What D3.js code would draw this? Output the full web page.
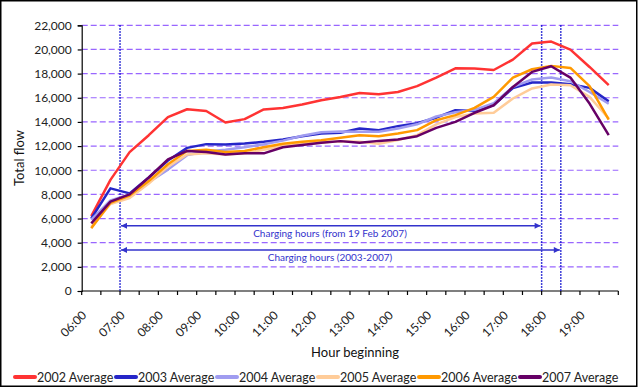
<!DOCTYPE html>
<html>
<head>
<meta charset="utf-8">
<script src="https://cdn.jsdelivr.net/npm/d3@7"></script>
<style>
  html, body { margin: 0; padding: 0; background: #fff; }
  svg { display: block; font-family: Lato, "Open Sans", sans-serif; }
</style>
</head>
<body>
<svg id="chart" width="639" height="387"></svg>
<script>
// ---- data ----
const categories = ["06:00","06:30","07:00","07:30","08:00","08:30","09:00","09:30","10:00","10:30",
  "11:00","11:30","12:00","12:30","13:00","13:30","14:00","14:30","15:00","15:30",
  "16:00","16:30","17:00","17:30","18:00","18:30","19:00","19:30"];
const tickLabels = ["06:00","07:00","08:00","09:00","10:00","11:00","12:00","13:00","14:00","15:00","16:00","17:00","18:00","19:00"];
const yTicks = [0,2000,4000,6000,8000,10000,12000,14000,16000,18000,20000,22000];

const seriesNames = ["2002 Average","2003 Average","2004 Average","2005 Average","2006 Average","2007 Average"];
const seriesColors = ["#ff3333","#2626c8","#a09cf0","#ffcc99","#ff9900","#660066"];

const avg2002 = [6200,9200,11500,12900,14400,15050,14900,13950,14230,15030,15160,15440,15800,16070,16400,16300,16480,16960,17670,18440,18420,18300,19160,20490,20650,19990,18550,17040];
const avg2003 = [6000,8500,8080,9400,10800,11850,12160,12130,12210,12350,12550,12820,13040,13100,13460,13320,13650,13900,14350,14970,14900,15400,16800,17260,17260,17120,16820,15700];
const avg2004 = [5900,7500,8000,9000,10050,11250,11550,11700,11900,12150,12450,12850,13150,13200,13180,13180,13450,13800,14450,14800,15000,15550,16900,17510,17680,17370,16480,15500];
const avg2005 = [5300,7200,7700,8900,10300,11300,11400,11300,11400,11700,12000,12200,12300,12400,12350,12200,12500,12900,13800,14400,14700,14750,15940,16770,17100,17040,16070,14280];
const avg2006 = [5200,7300,7900,9100,10500,11600,11700,11500,11600,11900,12200,12350,12490,12680,12900,12820,13040,13320,14140,14560,15160,16070,17670,18360,18640,18470,16960,14200];
const avg2007 = [5600,7400,8000,9400,10900,11600,11500,11300,11400,11400,11900,12080,12270,12410,12270,12430,12550,12820,13510,14000,14750,15380,16900,18140,18610,17670,15520,12900];
const seriesValues = [avg2002, avg2003, avg2004, avg2005, avg2006, avg2007];

const chargingStart = "07:00";
const chargingEnds = ["18:00","18:30"];
const annotations = ["Charging hours (from 19 Feb 2007)","Charging hours (2003-2007)"];
const annotationLevels = [5400, 3400];

// ---- layout ----
const svg = d3.select("#chart");
const pLeft = 81.7, pRight = 618.3, pTop = 25.3, pBottom = 291;

const x = d3.scaleBand().domain(categories).range([pLeft, pRight]).paddingInner(0).paddingOuter(0);
const y = d3.scaleLinear().domain([0, 22000]).range([pBottom, pTop]);
const cx = d => x(d) + x.bandwidth() / 2;

// outer border
svg.append("rect").attr("x", 0.75).attr("y", 0.75).attr("width", 636).attr("height", 385.5)
  .attr("fill", "none").attr("stroke", "#000").attr("stroke-width", 1.5);

// gridlines
svg.append("g").selectAll("line").data(yTicks.filter(v => v > 0)).join("line")
  .attr("x1", pLeft).attr("x2", pRight)
  .attr("y1", d => y(d)).attr("y2", d => y(d))
  .attr("stroke", "#9966ff").attr("stroke-width", 1.2).attr("stroke-dasharray", "6,3");

// y axis
const yAxis = d3.axisLeft(y).tickValues(yTicks).tickSize(4).tickPadding(6)
  .tickFormat(d3.format(","));
const gy = svg.append("g").attr("transform", `translate(${pLeft},0)`).call(yAxis);
gy.select(".domain").attr("stroke", "#000").attr("stroke-width", 1.2);
gy.selectAll(".tick line").attr("stroke", "#000").attr("stroke-width", 1.2);
gy.selectAll("text").attr("font-size", 12).attr("fill", "#222").attr("font-family", "Lato, sans-serif");

// x axis: boundary ticks
const boundaries = categories.map(c => x(c)).concat([pRight]);
svg.append("g").selectAll("line").data(boundaries).join("line")
  .attr("x1", d => d).attr("x2", d => d).attr("y1", pBottom).attr("y2", pBottom + 4)
  .attr("stroke", "#000").attr("stroke-width", 1.2);
svg.append("line").attr("x1", pLeft).attr("x2", pRight).attr("y1", pBottom).attr("y2", pBottom)
  .attr("stroke", "#000").attr("stroke-width", 1.2);

// x tick labels
svg.append("g").selectAll("text").data(tickLabels).join("text")
  .attr("transform", d => `translate(${cx(d) - 4},${pBottom + 25}) rotate(-45)`)
  .attr("text-anchor", "end").attr("font-size", 12).attr("fill", "#222")
  .text(d => d);

// axis titles
svg.append("text").attr("x", 355).attr("y", 357).attr("text-anchor", "middle")
  .attr("font-size", 13).attr("fill", "#111").text("Hour beginning");
svg.append("text").attr("transform", "translate(24,158) rotate(-90)").attr("text-anchor", "middle")
  .attr("font-size", 13).attr("fill", "#111").text("Total flow");

// vertical dotted lines
const vlines = [chargingStart].concat(chargingEnds);
svg.append("g").selectAll("line").data(vlines).join("line")
  .attr("x1", d => x(d)).attr("x2", d => x(d)).attr("y1", pTop).attr("y2", pBottom)
  .attr("stroke", "#0000cc").attr("stroke-width", 1.5).attr("stroke-dasharray", "1.5,1.5");

// arrow markers
const defs = svg.append("defs");
["start","end"].forEach(k => {
  defs.append("marker").attr("id", "arr-" + k).attr("viewBox", "0 0 10 10")
    .attr("refX", k === "end" ? 10 : 0).attr("refY", 5)
    .attr("markerWidth", 7).attr("markerHeight", 6).attr("markerUnits", "userSpaceOnUse")
    .attr("orient", "auto")
    .append("path").attr("d", k === "end" ? "M0,0 L10,5 L0,10 Z" : "M10,0 L0,5 L10,10 Z")
    .attr("fill", "#3333cc");
});
const annG = svg.append("g");
chargingEnds.forEach((end, i) => {
  const yy = y(annotationLevels[i]);
  annG.append("line").attr("x1", x(chargingStart) + 1).attr("x2", x(end) - 1)
    .attr("y1", yy).attr("y2", yy)
    .attr("stroke", "#3333cc").attr("stroke-width", 1.5)
    .attr("marker-start", "url(#arr-start)").attr("marker-end", "url(#arr-end)");
  annG.append("text").attr("x", 330).attr("y", yy + 11).attr("text-anchor", "middle")
    .attr("font-size", 10).attr("fill", "#3333cc").text(annotations[i]);
});

// lines
const line = d3.line().x((d, i) => cx(categories[i])).y(d => y(d));
svg.append("g").selectAll("path").data(seriesValues).join("path")
  .attr("d", d => line(d)).attr("fill", "none")
  .attr("stroke", (d, i) => seriesColors[i]).attr("stroke-width", 2.5)
  .attr("stroke-linejoin", "round");

// legend
const leg = svg.append("g");
seriesNames.forEach((n, i) => {
  const lx = 15 + i * 101;
  leg.append("line").attr("x1", lx).attr("x2", lx + 20).attr("y1", 377).attr("y2", 377)
    .attr("stroke", seriesColors[i]).attr("stroke-width", 4).attr("stroke-linecap", "round");
  leg.append("text").attr("x", lx + 22).attr("y", 382).attr("font-size", 12.5).attr("fill", "#222").text(n);
});
</script>
</body>
</html>
